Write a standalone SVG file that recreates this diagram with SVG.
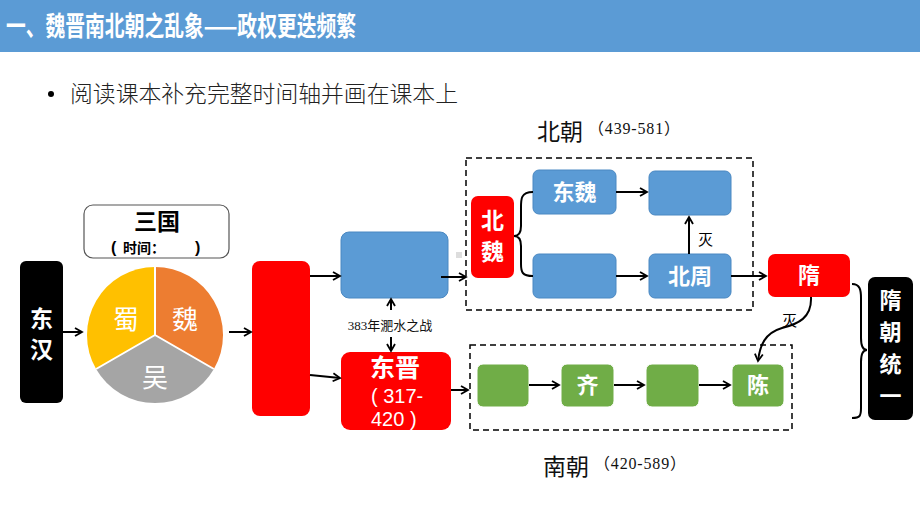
<svg xmlns="http://www.w3.org/2000/svg" width="920" height="518" viewBox="0 0 920 518">
<defs>
<marker id="ah" markerWidth="10" markerHeight="10" refX="8" refY="5" orient="auto" markerUnits="userSpaceOnUse">
<path d="M1,1 L8,5 L1,9" fill="none" stroke="#000" stroke-width="1.8"/>
</marker>
<style>
.cn{font-family:"Noto Sans CJK SC","Noto Sans",sans-serif}
.w{fill:#fff;font-weight:bold;text-anchor:middle}
.con{stroke:#000;stroke-width:2;fill:none}
.dash{fill:none;stroke:#000;stroke-width:1.5;stroke-dasharray:6 4}
.blue{fill:#5B9BD5;stroke:#4A88C2;stroke-width:1}
.green{fill:#70AD47;stroke:#fff;stroke-width:1}
.red{fill:#FF0000}
.ser{font-family:"Liberation Serif","Noto Sans CJK SC",serif}
</style>
</defs>
<rect width="920" height="518" fill="#fff"/>
<g id="header">
<rect x="0" y="0" width="920" height="52" fill="#5B9BD5"/>
<text x="6" y="36" class="cn" font-size="27" font-weight="bold" fill="#fff" textLength="350" lengthAdjust="spacingAndGlyphs">一、魏晋南北朝之乱象——政权更迭频繁</text>
</g>
<g id="bullet">
<circle cx="51" cy="94" r="3" fill="#000"/>
<text x="70" y="102" class="cn" font-size="22.5" fill="#222" font-weight="300" textLength="388" lengthAdjust="spacingAndGlyphs">阅读课本补充完整时间轴并画在课本上</text>
</g>
<g id="labels">
<text x="537" y="140" class="cn" font-size="23" fill="#111">北朝</text>
<text x="588" y="134" class="ser" font-size="16" fill="#111" textLength="92">（439-581）</text>
<text x="543" y="475" class="cn" font-size="23" fill="#111">南朝</text>
<text x="594" y="469" class="ser" font-size="16" fill="#111" textLength="92">（420-589）</text>
</g>
<g id="north-box"><rect x="466" y="158" width="287" height="152" class="dash"/></g>
<g id="south-box"><rect x="470" y="345" width="322" height="85" class="dash"/></g>
<g id="donghan">
<rect x="20" y="261" width="43" height="142" rx="6" fill="#000"/>
<text x="41.5" y="327" class="cn w" font-size="23">东</text>
<text x="41.5" y="358" class="cn w" font-size="23">汉</text>
</g>
<g id="sanguo-label">
<rect x="84" y="205" width="145" height="53" rx="9" fill="#fff" stroke="#555" stroke-width="1.2"/>
<text x="157" y="230" class="cn" font-size="23" font-weight="bold" text-anchor="middle">三国</text>
<text x="111" y="253" font-family="Liberation Sans,sans-serif" font-size="16" font-weight="bold">(</text>
<text x="123" y="253" class="cn" font-size="14" font-weight="bold">时间：</text>
<text x="195" y="253" font-family="Liberation Sans,sans-serif" font-size="16" font-weight="bold">)</text>
</g>
<g id="pie">
<path d="M155,335 L155,267 A68,68 0 0,1 213.9,369 Z" fill="#ED7D31"/>
<path d="M155,335 L213.9,369 A68,68 0 0,1 96.1,369 Z" fill="#A5A5A5"/>
<path d="M155,335 L96.1,369 A68,68 0 0,1 155,267 Z" fill="#FFC000"/>
<path d="M155,335 L155,267 M155,335 L213.9,369 M155,335 L96.1,369" stroke="#fff" stroke-width="2"/>
<text x="126" y="329" class="cn" font-size="26" fill="#fff" text-anchor="middle">蜀</text>
<text x="185" y="329" class="cn" font-size="26" fill="#fff" text-anchor="middle">魏</text>
<text x="155" y="387" class="cn" font-size="26" fill="#fff" text-anchor="middle">吴</text>
</g>
<g id="xijin"><rect x="252" y="261" width="58" height="155" rx="8" class="red"/></g>
<g id="dongjin-top"><rect x="341" y="232" width="107" height="66" rx="8" class="blue"/></g>
<g id="artifact"><rect x="456" y="252" width="6" height="6" fill="#ddd"/></g>
<g id="dongjin">
<rect x="341" y="352" width="110" height="78" rx="9" class="red"/>
<text x="395" y="377" class="cn w" font-size="25">东晋</text>
<text x="371" y="403" font-family="Liberation Sans,sans-serif" font-size="20" fill="#fff">( 317-</text>
<text x="371" y="426" font-family="Liberation Sans,sans-serif" font-size="20" fill="#fff">420 )</text>
</g>
<g id="feishui"><text x="390" y="330" class="ser" font-size="13" text-anchor="middle" fill="#111">383年淝水之战</text></g>
<g id="beiwei">
<rect x="471" y="196" width="43" height="82" rx="7" class="red"/>
<text x="492.5" y="229" class="cn w" font-size="23">北</text>
<text x="492.5" y="260" class="cn w" font-size="23">魏</text>
</g>
<g id="dongwei"><rect x="533" y="170" width="83" height="44" rx="6" class="blue"/><text x="574.5" y="200" class="cn w" font-size="22">东魏</text></g>
<g id="xiwei-blank"><rect x="533" y="254" width="83" height="44" rx="6" class="blue"/></g>
<g id="beiqi-blank"><rect x="649" y="171" width="82" height="44" rx="6" class="blue"/></g>
<g id="beizhou"><rect x="649" y="254" width="82" height="44" rx="6" class="blue"/><text x="690" y="284" class="cn w" font-size="22">北周</text></g>
<g id="sui"><rect x="768" y="254" width="82" height="43" rx="7" class="red"/><text x="809" y="283" class="cn w" font-size="22">隋</text></g>
<g id="suitongyi">
<rect x="868" y="277" width="45" height="143" rx="7" fill="#000"/>
<text x="890.5" y="308" class="cn w" font-size="22">隋</text>
<text x="890.5" y="340" class="cn w" font-size="22">朝</text>
<text x="890.5" y="372" class="cn w" font-size="22">统</text>
<text x="890.5" y="404" class="cn w" font-size="22">一</text>
</g>
<g id="song"><rect x="477" y="364" width="52" height="43" rx="6" class="green"/></g>
<g id="qi"><rect x="561" y="364" width="53" height="43" rx="6" class="green"/><text x="587.5" y="393" class="cn w" font-size="22">齐</text></g>
<g id="liang"><rect x="646" y="364" width="53" height="43" rx="6" class="green"/></g>
<g id="chen"><rect x="732" y="364" width="52" height="43" rx="6" class="green"/><text x="758" y="393" class="cn w" font-size="22">陈</text></g>
<g id="connectors">
<line x1="63" y1="332" x2="82" y2="332" class="con" marker-end="url(#ah)"/>
<line x1="229" y1="332" x2="251" y2="332" class="con" marker-end="url(#ah)"/>
<line x1="310" y1="276" x2="340" y2="276" class="con" marker-end="url(#ah)"/>
<line x1="310" y1="375" x2="340" y2="378" class="con" marker-end="url(#ah)"/>
<line x1="441" y1="277" x2="466" y2="277" class="con" marker-end="url(#ah)"/>
<line x1="451" y1="390" x2="468" y2="390" class="con" marker-end="url(#ah)"/>
<line x1="391" y1="310" x2="391" y2="299" class="con" marker-end="url(#ah)"/>
<line x1="391" y1="337" x2="391" y2="351" class="con" marker-end="url(#ah)"/>
<path d="M533,192 C520,192 521,200 521,210 L521,226 C521,232 519,236 514,236 C519,236 521,240 521,246 L521,264 C521,272 522,276 533,276" class="con"/>
<line x1="616" y1="192" x2="647" y2="192" class="con" marker-end="url(#ah)"/>
<line x1="616" y1="276" x2="647" y2="276" class="con" marker-end="url(#ah)"/>
<line x1="689" y1="254" x2="689" y2="217" class="con" marker-end="url(#ah)"/>
<text x="698" y="245" class="cn" font-size="15" fill="#000">灭</text>
<line x1="731" y1="276" x2="766" y2="276" class="con" marker-end="url(#ah)"/>
<path d="M811,297 C812,318 798,324 782,328 C765,333 760,345 758,361" class="con" marker-end="url(#ah)"/>
<text x="782" y="326" class="cn" font-size="15" fill="#000">灭</text>
<path d="M852,284 C860,284 861,290 861,298 L861,338 C861,345 862,350 867,350 C862,350 861,355 861,362 L861,408 C861,416 860,418 852,418" class="con"/>
<line x1="529" y1="385" x2="559" y2="385" class="con" marker-end="url(#ah)"/>
<line x1="614" y1="385" x2="644" y2="385" class="con" marker-end="url(#ah)"/>
<line x1="699" y1="385" x2="730" y2="385" class="con" marker-end="url(#ah)"/>
</g>
</svg>
